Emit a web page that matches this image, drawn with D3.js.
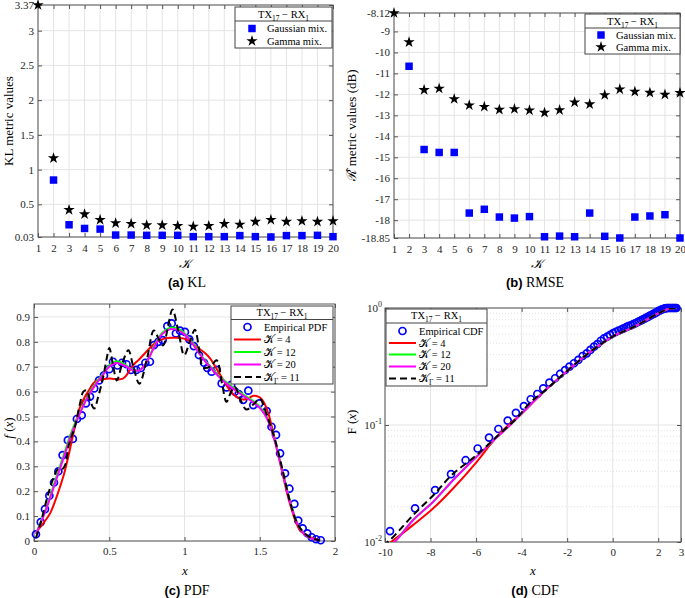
<!DOCTYPE html>
<html><head><meta charset="utf-8">
<script src="https://cdn.jsdelivr.net/npm/d3@7"></script>
<style>body{margin:0;background:#fff}svg{display:block}</style>
</head><body>
<svg id="c" width="685" height="598"></svg>
<script>
// ---------------- DATA ----------------
const kValues = [1,2,3,4,5,6,7,8,9,10,11,12,13,14,15,16,17,18,19,20];
const klGaussian = [null,0.85,0.206,0.153,0.144,0.058,0.058,0.054,0.054,0.054,0.035,0.035,0.035,0.05,0.035,0.03,0.05,0.05,0.054,0.035];
const klGamma = [3.37,1.165,0.42,0.358,0.277,0.23,0.22,0.20,0.20,0.19,0.18,0.19,0.22,0.21,0.25,0.277,0.25,0.26,0.25,0.26];
const klTicks = [0.03,0.5,1,1.5,2,2.5,3,3.37];
const rmseGaussian = [null,-10.66,-14.63,-14.77,-14.77,-17.66,-17.48,-17.85,-17.90,-17.83,-18.79,-18.76,-18.79,-17.66,-18.77,-18.85,-17.85,-17.80,-17.74,-18.85];
const rmseGamma = [-8.12,-9.51,-11.79,-11.72,-12.22,-12.52,-12.59,-12.73,-12.70,-12.76,-12.87,-12.75,-12.38,-12.47,-12.03,-11.76,-11.87,-11.92,-12.01,-11.93];
const rmseTicks = [-18.85,-18,-17,-16,-15,-14,-13,-12,-11,-10,-9,-8.12];

const pdfTicksX = [0,0.5,1,1.5,2];
const pdfTicksY = [0,0.1,0.2,0.3,0.4,0.5,0.6,0.7,0.8,0.9];
const empPdfX = [0.013,0.045,0.073,0.102,0.133,0.162,0.19,0.225,0.258,0.285,0.317,0.345,0.372,0.40,0.432,0.465,0.50,0.525,0.555,0.585,0.615,0.645,0.68,0.71,0.74,0.77,0.797,0.826,0.855,0.886,0.915,0.943,0.97,1.003,1.032,1.062,1.096,1.13,1.152,1.18,1.214,1.247,1.28,1.31,1.335,1.36,1.39,1.424,1.457,1.497,1.546,1.578,1.608,1.635,1.668,1.697,1.73,1.756,1.785,1.816,1.845,1.874,1.905];
const empPdfY = [0.027,0.076,0.128,0.182,0.235,0.28,0.345,0.405,0.41,0.49,0.505,0.553,0.58,0.613,0.645,0.665,0.69,0.72,0.705,0.716,0.71,0.687,0.687,0.695,0.716,0.72,0.787,0.80,0.807,0.863,0.874,0.834,0.845,0.84,0.81,0.783,0.747,0.716,0.695,0.68,0.687,0.633,0.617,0.627,0.60,0.59,0.567,0.604,0.546,0.553,0.522,0.459,0.426,0.352,0.272,0.21,0.149,0.082,0.051,0.031,0.015,0.007,0.003];
const pdfK4X = [0.013,0.06,0.106,0.14,0.173,0.2,0.228,0.25,0.272,0.306,0.339,0.37,0.394,0.42,0.45,0.48,0.505,0.53,0.56,0.59,0.616,0.64,0.671,0.7,0.726,0.77,0.815,0.86,0.904,0.95,0.992,1.04,1.081,1.13,1.17,1.21,1.258,1.30,1.347,1.39,1.42,1.457,1.49,1.513,1.535,1.557,1.58,1.601,1.646,1.70,1.767,1.834,1.89];
const pdfK4Y = [0.035,0.07,0.11,0.16,0.218,0.27,0.339,0.40,0.459,0.539,0.58,0.61,0.633,0.645,0.649,0.652,0.653,0.651,0.649,0.652,0.667,0.69,0.714,0.73,0.747,0.775,0.80,0.812,0.816,0.816,0.814,0.80,0.78,0.758,0.734,0.695,0.647,0.606,0.578,0.568,0.572,0.583,0.58,0.57,0.548,0.513,0.46,0.406,0.285,0.151,0.044,0.015,0.004];
const pdfGridX = [0.013,0.05,0.1,0.15,0.2,0.25,0.3,0.35,0.4,0.45,0.5,0.55,0.6,0.65,0.7,0.75,0.8,0.85,0.9,0.95,1.0,1.05,1.1,1.15,1.2,1.25,1.3,1.35,1.4,1.45,1.5,1.55,1.6,1.65,1.7,1.75,1.8,1.85,1.9];
const pdfK12Y = [0.03,0.085,0.165,0.26,0.35,0.44,0.51,0.575,0.625,0.665,0.705,0.722,0.71,0.69,0.685,0.72,0.785,0.835,0.856,0.855,0.835,0.80,0.755,0.715,0.682,0.652,0.628,0.605,0.585,0.565,0.54,0.495,0.405,0.285,0.165,0.072,0.026,0.008,0.002];
const pdfK20Y = [0.028,0.08,0.16,0.25,0.34,0.43,0.505,0.57,0.62,0.66,0.70,0.715,0.705,0.688,0.685,0.72,0.78,0.83,0.85,0.848,0.83,0.795,0.752,0.712,0.678,0.648,0.622,0.60,0.58,0.56,0.535,0.49,0.40,0.28,0.16,0.07,0.025,0.008,0.002];
const pdfGamX = [0.013,0.05,0.095,0.14,0.16,0.19,0.21,0.228,0.25,0.272,0.306,0.328,0.35,0.372,0.40,0.427,0.46,0.483,0.50,0.527,0.55,0.59,0.627,0.66,0.70,0.75,0.796,0.83,0.858,0.89,0.92,0.96,0.998,1.035,1.069,1.10,1.124,1.17,1.213,1.25,1.279,1.31,1.335,1.37,1.412,1.46,1.50,1.55,1.60,1.65,1.70,1.75,1.80,1.85,1.9];
const pdfGamY = [0.012,0.085,0.19,0.27,0.29,0.29,0.31,0.378,0.42,0.459,0.553,0.60,0.605,0.566,0.532,0.58,0.66,0.733,0.775,0.70,0.645,0.72,0.766,0.70,0.632,0.73,0.846,0.81,0.786,0.86,0.93,0.84,0.746,0.80,0.849,0.76,0.697,0.70,0.726,0.63,0.559,0.60,0.619,0.57,0.528,0.55,0.572,0.50,0.41,0.29,0.16,0.07,0.03,0.01,0.003];

const cdfTicksX = [-10,-8,-6,-4,-2,0,2,3];
const cdfTicksY = [0.01,0.1,1];
const cdfMinorY = [0.02,0.03,0.04,0.05,0.06,0.07,0.08,0.09,0.2,0.3,0.4,0.5,0.6,0.7,0.8,0.9];
const empCdfX = [-9.78,-8.68,-7.80,-7.10,-6.46,-5.93,-5.43,-5.02,-4.61,-4.25,-3.90,-3.60,-3.31,-3.05,-2.78,-2.53,-2.31,-2.09,-1.90,-1.70,-1.51,-1.32,-1.14,-0.98,-0.82,-0.67,-0.52,-0.38,-0.24,-0.11,0.02,0.14,0.26,0.37,0.48,0.59,0.69,0.79,0.89,0.98,1.08,1.16,1.25,1.33,1.42,1.49,1.57,1.64,1.72,1.79,1.86,1.92,1.99,2.05,2.12,2.18,2.24,2.30,2.36,2.42,2.48,2.53,2.59,2.64,2.70,2.75,2.80];
const empCdfY = [0.0124,0.0194,0.0278,0.038,0.050,0.063,0.078,0.0924,0.109,0.127,0.145,0.166,0.184,0.206,0.230,0.251,0.273,0.295,0.315,0.337,0.36,0.389,0.41,0.438,0.467,0.492,0.525,0.55,0.57,0.59,0.61,0.625,0.64,0.655,0.67,0.685,0.70,0.71,0.725,0.74,0.755,0.77,0.785,0.80,0.815,0.83,0.845,0.86,0.875,0.89,0.905,0.92,0.935,0.95,0.965,0.975,0.985,0.992,0.997,1.0,1.0,1.0,1.0,1.0,1.0,1.0,1.0];
const cdfGamX = [-10.1,-9.78,-8.76,-7.8,-7.07,-5.97,-5.1,-4.22,-3.63,-3.0,-2.0,-1.0,0,1,2,2.5,2.8];
const cdfGamY = [0.0094,0.0104,0.017,0.026,0.0374,0.0554,0.0795,0.114,0.155,0.195,0.29,0.42,0.57,0.70,0.90,0.99,1.0];
const cdfK20X = [-9.8,-9.56,-8.76,-7.88,-7.0,-5.97,-5.1,-4.5,-4.0,-3.0,-2.0,-1.0,0,1,2,2.5,2.8];
const cdfK20Y = [0.0093,0.0101,0.0154,0.0221,0.0339,0.0537,0.078,0.10,0.125,0.195,0.29,0.42,0.57,0.70,0.90,0.99,1.0];
const cdfK12Y = [0.0093,0.0101,0.0155,0.0222,0.034,0.0538,0.078,0.10,0.125,0.195,0.29,0.42,0.57,0.70,0.90,0.99,1.0];
const cdfK4X = [-9.95,-9.71,-8.76,-7.88,-7.0,-5.97,-5.39,-4.95,-4.5,-4.0,-3.0,-2.0,-1.0,0,1,2,2.5,2.8];
const cdfK4Y = [0.0094,0.0101,0.014,0.0194,0.0288,0.0485,0.0675,0.085,0.103,0.125,0.195,0.29,0.42,0.57,0.70,0.90,0.99,1.0];

// ---------------- DRAWING ----------------
const svg = d3.select("#c");
const SERIF = "'Liberation Serif','Times New Roman',serif";
const SANS = "'Liberation Sans',Arial,sans-serif";
const GRID = "#e4e4e4", FRAME = "#555", TXT = "#262626";
const BLUE = "#0000ff";
const LEGFS = 10.5;
const zip = (a, b) => a.map((v, i) => [v, b[i]]);

function panel(p, x, y, xTicks, yTicks, xFmt, yFmt, id, logMinor, xPad) {
  const g = svg.append("g");
  g.append("clipPath").attr("id", id).append("rect")
    .attr("x", p.l).attr("y", p.t).attr("width", p.r - p.l).attr("height", p.b - p.t);
  if (logMinor) {
    g.append("g").selectAll("line").data(logMinor).join("line")
      .attr("x1", p.l).attr("x2", p.r).attr("y1", d => y(d)).attr("y2", d => y(d))
      .attr("stroke", "#e3e3e3").attr("stroke-dasharray", "1,2");
  }
  g.append("g").selectAll("line").data(xTicks).join("line")
    .attr("x1", d => x(d)).attr("x2", d => x(d)).attr("y1", p.t).attr("y2", p.b).attr("stroke", GRID);
  g.append("g").selectAll("line").data(yTicks).join("line")
    .attr("x1", p.l).attr("x2", p.r).attr("y1", d => y(d)).attr("y2", d => y(d)).attr("stroke", GRID);
  const style = s => {
    s.select(".domain").remove();
    s.attr("font-family", SERIF).attr("font-size", 11);
    s.selectAll("line").attr("stroke", FRAME);
    s.selectAll("text").attr("fill", TXT);
  };
  g.append("g").attr("transform", `translate(0,${p.b})`)
    .call(d3.axisBottom(x).tickValues(xTicks).tickFormat(xFmt).tickSize(-4).tickPadding(xPad)).call(style);
  g.append("g").attr("transform", `translate(0,${p.t})`)
    .call(d3.axisTop(x).tickValues(xTicks).tickFormat("").tickSize(-4)).call(style);
  g.append("g").attr("transform", `translate(${p.l},0)`)
    .call(d3.axisLeft(y).tickValues(yTicks).tickFormat(yFmt).tickSize(-4).tickPadding(4)).call(style);
  g.append("g").attr("transform", `translate(${p.r},0)`)
    .call(d3.axisRight(y).tickValues(yTicks).tickFormat("").tickSize(-4)).call(style);
  g.append("rect").attr("x", p.l).attr("y", p.t).attr("width", p.r - p.l).attr("height", p.b - p.t)
    .attr("fill", "none").attr("stroke", FRAME);
  return g;
}

function txLabel(sel, x, y) {
  const t = sel.append("text").attr("x", x).attr("y", y).attr("text-anchor", "middle")
    .attr("font-family", SERIF).attr("font-size", LEGFS).attr("fill", "#000");
  t.append("tspan").text("TX");
  t.append("tspan").attr("font-size", 7.5).attr("dy", 3).text("17");
  t.append("tspan").attr("dy", -3).text(" \u2212 RX");
  t.append("tspan").attr("font-size", 7.5).attr("dy", 3).text("1");
}

function legendBox(lg, x0, y0, w, h, titleY, lineY) {
  lg.append("rect").attr("x", x0).attr("y", y0).attr("width", w).attr("height", h)
    .attr("fill", "#fff").attr("stroke", "#444");
  lg.append("line").attr("x1", x0).attr("x2", x0 + w).attr("y1", lineY).attr("y2", lineY).attr("stroke", "#444");
  txLabel(lg, x0 + w / 2, titleY);
}

function legText(lg, x, y, str) {
  return lg.append("text").attr("x", x).attr("y", y).attr("dy", "0.35em")
    .attr("font-family", SERIF).attr("font-size", LEGFS).attr("fill", "#000").text(str);
}

function caption(x, y, a, b) {
  const t = svg.append("text").attr("x", x).attr("y", y).attr("text-anchor", "middle").attr("fill", "#000");
  t.append("tspan").attr("font-family", SANS).attr("font-weight", "bold").attr("font-size", 13).text(a);
  t.append("tspan").attr("font-family", SERIF).attr("font-size", 14).text(" " + b);
}

function yLabel(x, y, build) {
  const t = svg.append("text").attr("transform", `translate(${x},${y}) rotate(-90)`)
    .attr("text-anchor", "middle").attr("font-family", SERIF).attr("font-size", 13).attr("fill", "#000");
  build(t);
}
function xLabel(x, y, build) {
  const t = svg.append("text").attr("x", x).attr("y", y).attr("dy", "0.35em")
    .attr("text-anchor", "middle").attr("font-family", SERIF).attr("font-size", 13).attr("fill", "#000");
  build(t);
}

const sq = d3.symbol().type(d3.symbolSquare).size(56)();
const star = d3.symbol().type(d3.symbolStar).size(40)();

function scatter(g, x, y, xs, ys, shape, color) {
  g.append("g").selectAll("path").data(zip(xs, ys).filter(d => d[1] != null)).join("path")
    .attr("d", shape).attr("fill", color)
    .attr("transform", d => `translate(${x(d[0])},${y(d[1])})`);
}

// ---- Panel (a) KL ----
const pa = {l: 38, r: 333, t: 5, b: 237};
const xa = d3.scaleLinear().domain([1, 20]).range([pa.l, pa.r]);
const ya = d3.scaleLinear().domain([0.03, 3.37]).range([pa.b, pa.t]);
const ga = panel(pa, xa, ya, kValues, klTicks, d => d, d => d, "clipA", null, 7);
scatter(ga, xa, ya, kValues, klGaussian, sq, BLUE);
scatter(ga, xa, ya, kValues, klGamma, star, "#000");
{
  const lg = svg.append("g");
  legendBox(lg, 235, 7, 97, 41, 17.5, 21);
  lg.append("path").attr("d", sq).attr("fill", BLUE).attr("transform", "translate(252,28.5)");
  legText(lg, 267, 28.5, "Gaussian mix.");
  lg.append("path").attr("d", star).attr("fill", "#000").attr("transform", "translate(252,41)");
  legText(lg, 267, 41, "Gamma mix.");
}
yLabel(13, 121, t => t.text("KL metric values"));
xLabel(185, 263, t => t.attr("font-style", "italic").text("\uD835\uDCA6"));
caption(187, 287, "(a)", "KL");

// ---- Panel (b) RMSE ----
const pb = {l: 394, r: 680, t: 13, b: 238};
const xb = d3.scaleLinear().domain([1, 20]).range([pb.l, pb.r]);
const yb = d3.scaleLinear().domain([-18.85, -8.12]).range([pb.b, pb.t]);
const gb = panel(pb, xb, yb, kValues, rmseTicks, d => d, d => d, "clipB", null, 7);
scatter(gb, xb, yb, kValues, rmseGaussian, sq, BLUE);
scatter(gb, xb, yb, kValues, rmseGamma, star, "#000");
{
  const lg = svg.append("g");
  legendBox(lg, 585, 14, 95, 40, 24.5, 28);
  lg.append("path").attr("d", sq).attr("fill", BLUE).attr("transform", "translate(601,35)");
  legText(lg, 616, 35, "Gaussian mix.");
  lg.append("path").attr("d", star).attr("fill", "#000").attr("transform", "translate(601,47)");
  legText(lg, 616, 47, "Gamma mix.");
}
yLabel(356, 125, t => { t.text("\u211B\u0302 metric values (dB)"); });
xLabel(537, 263, t => t.attr("font-style", "italic").text("\uD835\uDCA6"));
caption(535, 287, "(b)", "RMSE");

// ---- curves helper ----
function curve(g, x, y, xs, ys, color, dash, clip) {
  const line = d3.line().x(d => x(d[0])).y(d => y(d[1])).curve(d3.curveCatmullRom.alpha(0.5));
  g.append("path").datum(zip(xs, ys)).attr("d", line).attr("fill", "none")
    .attr("stroke", color).attr("stroke-width", 2)
    .attr("stroke-dasharray", dash || null).attr("clip-path", `url(#${clip})`);
}
function circles(g, x, y, xs, ys) {
  g.append("g").selectAll("circle").data(zip(xs, ys)).join("circle")
    .attr("cx", d => x(d[0])).attr("cy", d => y(d[1])).attr("r", 3.5)
    .attr("fill", "none").attr("stroke", BLUE).attr("stroke-width", 1.7);
}
function curveLegend(lg, x0, y0, w, h, titleY, lineY, rows, label) {
  legendBox(lg, x0, y0, w, h, titleY, lineY);
  const ls = x0 + 3, le = x0 + 30, mx = (ls + le) / 2;
  lg.append("circle").attr("cx", mx).attr("cy", rows[0]).attr("r", 3.5).attr("fill", "none")
    .attr("stroke", BLUE).attr("stroke-width", 1.7);
  legText(lg, x0 + 33, rows[0], label);
  const items = [["#ff0000", null, "4"], ["#00ff00", null, "12"], ["#ff00ff", null, "20"], ["#000", "7,4", "11"]];
  items.forEach((it, i) => {
    const yy = rows[i + 1];
    lg.append("line").attr("x1", ls).attr("x2", le).attr("y1", yy).attr("y2", yy)
      .attr("stroke", it[0]).attr("stroke-width", 2).attr("stroke-dasharray", it[1]);
    const t = legText(lg, x0 + 33, yy, "");
    t.append("tspan").text("\uD835\uDCA6");
    if (i === 3) t.append("tspan").attr("font-size", 7.5).attr("dy", 3).text("\u0393");
    t.append("tspan").attr("dy", i === 3 ? -3 : 0).text(" = " + it[2]);
  });
}

// ---- Panel (c) PDF ----
const pc = {l: 34, r: 335, t: 304, b: 541};
const xc = d3.scaleLinear().domain([0, 2]).range([pc.l, pc.r]);
const yc = d3.scaleLinear().domain([0, 0.952]).range([pc.b, pc.t]);
const gc = panel(pc, xc, yc, pdfTicksX, pdfTicksY, d => d, d => d, "clipC", null, 6);
circles(gc, xc, yc, empPdfX, empPdfY);
curve(gc, xc, yc, pdfK4X, pdfK4Y, "#ff0000", null, "clipC");
curve(gc, xc, yc, pdfGridX, pdfK12Y, "#00ff00", null, "clipC");
curve(gc, xc, yc, pdfGridX, pdfK20Y, "#ff00ff", null, "clipC");
curve(gc, xc, yc, pdfGamX, pdfGamY, "#000", "7,4", "clipC");
curveLegend(svg.append("g"), 231, 306, 102, 78, 315.5, 319.5, [327, 339.5, 352, 364.5, 377], "Empirical PDF");
yLabel(13, 428, t => { t.append("tspan").attr("font-style", "italic").text("f"); t.append("tspan").text(" ("); t.append("tspan").attr("font-style", "italic").text("x"); t.append("tspan").text(")"); });
xLabel(185, 570, t => t.attr("font-style", "italic").text("x"));
caption(187, 595, "(c)", "PDF");

// ---- Panel (d) CDF ----
const pd = {l: 385, r: 681, t: 308, b: 542};
const xd = d3.scaleLinear().domain([-10, 3]).range([pd.l, pd.r]);
const yd = d3.scaleLog().domain([0.01, 1]).range([pd.b, pd.t]);
const gd = panel(pd, xd, yd, cdfTicksX, cdfTicksY, d => d, () => "", "clipD", cdfMinorY, 6);
gd.append("g").selectAll("text").data(cdfTicksY).join("text")
  .attr("x", pd.l - 3).attr("y", d => yd(d)).attr("dy", "0.35em").attr("text-anchor", "end")
  .attr("font-family", SERIF).attr("font-size", 11).attr("fill", TXT)
  .each(function(d) {
    const t = d3.select(this);
    t.append("tspan").text("10");
    t.append("tspan").attr("font-size", 8).attr("dy", -5).text(String(Math.round(Math.log10(d))));
  });
circles(gd, xd, yd, empCdfX, empCdfY);
curve(gd, xd, yd, cdfK4X, cdfK4Y, "#ff0000", null, "clipD");
curve(gd, xd, yd, cdfK20X, cdfK12Y, "#00ff00", null, "clipD");
curve(gd, xd, yd, cdfK20X, cdfK20Y, "#ff00ff", null, "clipD");
curve(gd, xd, yd, cdfGamX, cdfGamY, "#000", "7,4", "clipD");
curveLegend(svg.append("g"), 386, 309, 101, 77, 319, 323, [331, 343, 354.5, 366.5, 378.5], "Empirical CDF");
yLabel(356, 422, t => { t.append("tspan").text("F ("); t.append("tspan").attr("font-style", "italic").text("x"); t.append("tspan").text(")"); });
xLabel(533, 570, t => t.attr("font-style", "italic").text("x"));
caption(535, 595, "(d)", "CDF");
</script>
</body></html>
